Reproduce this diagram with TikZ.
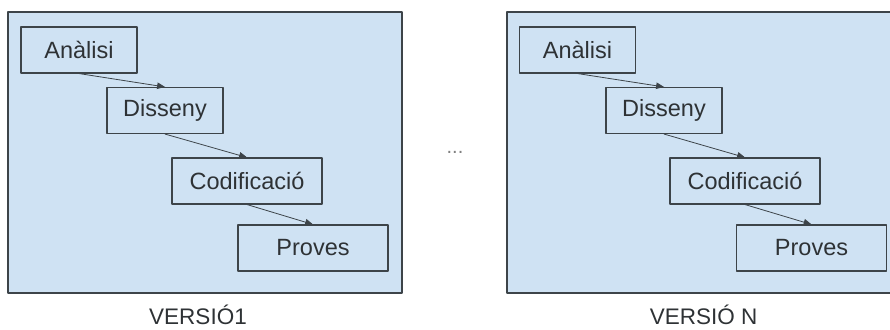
\documentclass[tikz,border=0pt]{standalone}
\usepackage{fontspec}
\setmainfont{Liberation Sans}
\usetikzlibrary{arrows}
\definecolor{panelblue}{HTML}{CFE2F3}
\definecolor{edgegray}{HTML}{3D4449}
\definecolor{textgray}{HTML}{2E3235}
\begin{document}
\begin{tikzpicture}[line cap=round,line join=round,>=triangle 45,x=1pt,y=-1pt,
		stage/.style={draw=edgegray,line width=1.1pt,inner sep=0pt,minimum height=46pt,text=textgray,font=\fontsize{23.5}{28}\selectfont},
		caption/.style={inner sep=0pt,text=textgray,font=\fontsize{22.5}{27}\selectfont},
		flow/.style={->,draw=edgegray,line width=0.8pt}]
		\useasboundingbox (0,0) rectangle (890,329);
		\draw [fill=panelblue,draw=edgegray,line width=1.4pt] (8,12) rectangle (402,293);
		\draw [fill=panelblue,draw=edgegray,line width=1.4pt] (507,12) rectangle (895,293);
		\node[stage,minimum width=116pt] (anal1) at (79,50) {Anàlisi};
		\node[stage,minimum width=116pt] (diss1) at (165,110.5) {Disseny};
		\node[stage,minimum width=150pt] (codi1) at (247,181) {Codificació};
		\node[stage,minimum width=150pt] (prov1) at (313,248) {Proves};
		\draw [flow] (anal1.south) -- (diss1.north);
		\draw [flow] (diss1.south) -- (codi1.north);
		\draw [flow] (codi1.south) -- (prov1.north);
		\node[stage,minimum width=116pt] (analN) at (577.5,50) {Anàlisi};
		\node[stage,minimum width=116pt] (dissN) at (664,110.5) {Disseny};
		\node[stage,minimum width=150pt] (codiN) at (745,181) {Codificació};
		\node[stage,minimum width=150pt] (provN) at (811.5,248) {Proves};
		\draw [flow] (analN.south) -- (dissN.north);
		\draw [flow] (dissN.south) -- (codiN.north);
		\draw [flow] (codiN.south) -- (provN.north);
		\node[inner sep=0pt,text=gray,font=\fontsize{20}{24}\selectfont] (gap) at (455,152) {...};
		\node[caption] (ver1) at (198,315) {VERSIÓ1};
		\node[caption] (verN) at (703.5,315) {VERSIÓ N};
	\end{tikzpicture}
\end{document}
